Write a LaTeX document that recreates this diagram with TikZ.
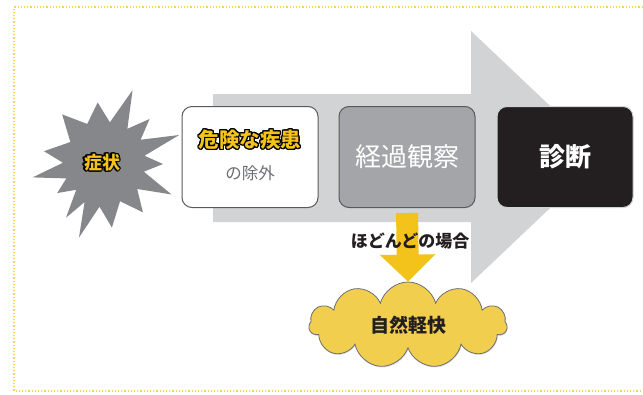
\documentclass[tikz,border=0pt]{standalone}
\usepackage{fontspec}
\setmainfont{Noto Sans CJK JP}
\usepackage{contour}
\contourlength{1.1pt}
\usetikzlibrary{positioning,shapes.symbols,arrows.meta,shadows}
\definecolor{framey}{HTML}{F7D44A}
\definecolor{arrowgray}{HTML}{D1D3D4}
\definecolor{edgegray}{HTML}{58595B}
\definecolor{boxgray}{HTML}{A4A5A8}
\definecolor{boxblack}{HTML}{231F20}
\definecolor{burstgray}{HTML}{86878A}
\definecolor{kyellow}{HTML}{F3C21B}
\definecolor{cloudy}{HTML}{F2CE4E}
\definecolor{textgray}{HTML}{6D6E71}
\newcommand{\hilite}[1]{\contour{black}{\textcolor{kyellow}{#1}}}
\tikzset{
  stepbox/.style={rounded corners=10pt, minimum width=136pt, minimum height=101pt,
    line width=1pt, inner sep=0pt},
  downarrow/.style={draw=kyellow, line width=22pt, -{Triangle[width=54pt,length=27pt]}},
  cloudnode/.style={cloud, cloud puffs=11, aspect=2.3, minimum width=198pt,
    minimum height=86pt, fill=cloudy, draw=textgray, line width=0.8pt,
    drop shadow={opacity=0.25, shadow xshift=0.6pt, shadow yshift=-1.2pt}}
}
\begin{document}
\begin{tikzpicture}[x=1pt,y=-1pt]
  \useasboundingbox (0,0) rectangle (643,394);
  % frame
  \draw[framey, line width=1.2pt, dotted] (646,7) -- (14,7) -- (14,391) -- (646,391);
  % big arrow
  \fill[arrowgray] (213,94) -- (471,94) -- (471,31) -- (604,157) -- (471,283)
    -- (471,222) -- (213,222) -- cycle;
  % steps
  \node[stepbox, fill=white, draw=edgegray] (exclude) at (250,157) {};
  \node[stepbox, fill=boxgray, draw=edgegray] (observe) at (407,157) {};
  \node[stepbox, fill=boxblack, draw=arrowgray] (diagnosis) at (565,157) {};
  \node[font=\bfseries\fontsize{20.5}{24}\selectfont] (danger)
    at ([yshift=17pt]exclude.center) {\hilite{危険な疾患}};
  \node[font=\fontsize{16.5}{20}\selectfont, text=textgray] (rule)
    at ([yshift=-16pt]exclude.center) {の除外};
  \node[font=\fontsize{26}{30}\selectfont, text=white] at (observe) {経過観察};
  \node[font=\bfseries\fontsize{26}{30}\selectfont, text=white] at (diagnosis) {診断};
  % symptom burst
  \fill[burstgray, shift={(105,162)}]
    (-9:40) -- (-20:79) -- (-32:42) -- (-44:62) -- (-56:40) -- (-69:77) -- (-83:40)
    -- (-97:60) -- (-115:42) -- (-132:64) -- (-150:40) -- (-170:62) -- (-181:42)
    -- (-192:74) -- (-203:42) -- (-213:57) -- (-224:40) -- (-235:68) -- (-243:45)
    -- (-251:80) -- (-263:45) -- (-276:66) -- (-291:42) -- (-307:63) -- (-320:42)
    -- (-334:74) -- (-346:40) -- (-358:58) -- cycle;
  \node[font=\bfseries\fontsize{18}{22}\selectfont] (symptom) at (102,163) {\hilite{症状}};
  % most cases
  \node[cloudnode, font=\bfseries\fontsize{19}{22}\selectfont, text=boxblack]
    (relief) at (408,325) {自然軽快};
  \draw[downarrow, shorten <=5pt] (observe.south) -- (relief.north);
  \node[font=\bfseries\fontsize{17}{20}\selectfont, text=boxblack] (most)
    at (410,241) {ほどんどの場合};
\end{tikzpicture}
\end{document}
